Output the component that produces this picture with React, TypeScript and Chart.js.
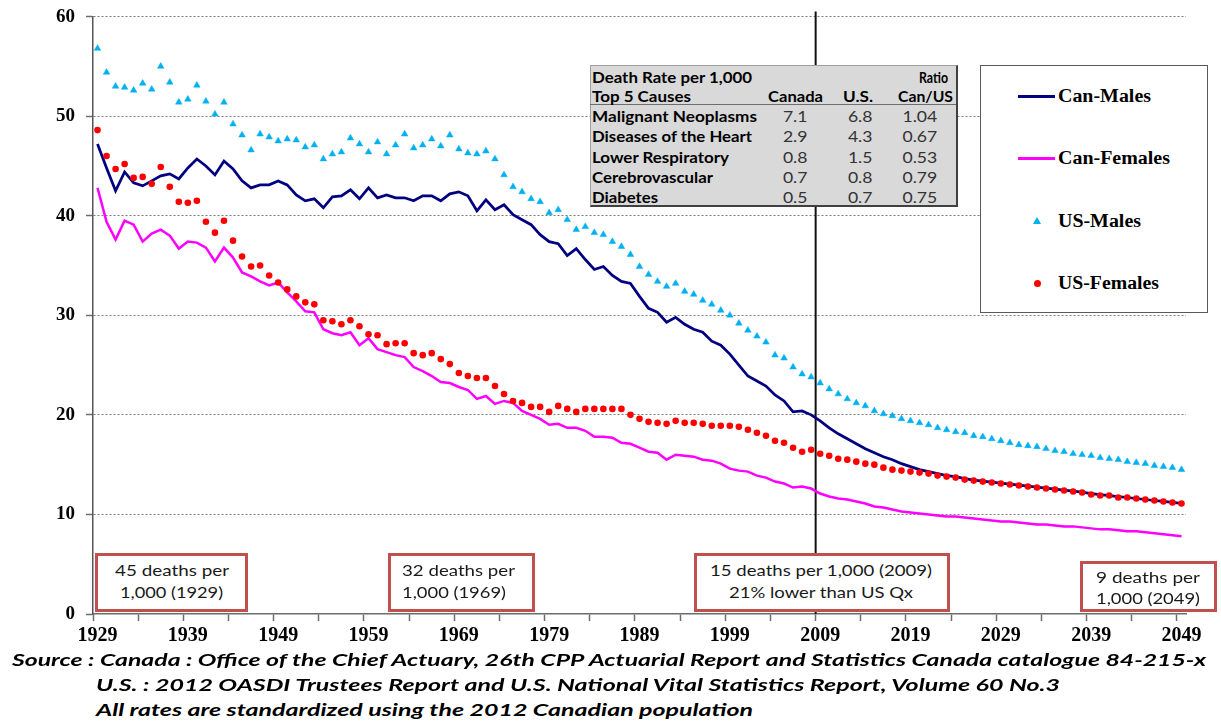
import React, { useEffect, useLayoutEffect, useRef } from 'react';
import { Chart, registerables } from 'chart.js';

Chart.register(...registerables);

// ---------- DATA ----------
const START_YEAR = 1929;
const REF_YEAR = 2009;

// Death rate per 1,000, 1929 .. 2049
const canMales = [
  47.2, 44.8, 42.5, 44.4, 43.3, 43.0, 43.5, 44.0, 44.2, 43.7,
  44.8, 45.7, 45.0, 44.1, 45.5, 44.7, 43.5, 42.8, 43.1, 43.1,
  43.5, 43.1, 42.1, 41.5, 41.7, 40.8, 41.9, 42.0, 42.6, 41.7,
  42.8, 41.8, 42.1, 41.8, 41.8, 41.5, 42.0, 42.0, 41.5, 42.2,
  42.4, 42.0, 40.5, 41.6, 40.6, 41.1, 40.1, 39.6, 39.1, 38.1,
  37.4, 37.2, 36.0, 36.7, 35.6, 34.6, 34.9, 34.0, 33.4, 33.2,
  31.9, 30.7, 30.3, 29.3, 29.8, 29.1, 28.6, 28.3, 27.4, 27.0,
  26.1, 25.0, 23.9, 23.4, 22.9, 22.0, 21.4, 20.3, 20.4, 20.0,
  19.4, 18.7, 18.1, 17.6, 17.1, 16.6, 16.2, 15.8, 15.5, 15.1,
  14.8, 14.5, 14.3, 14.1, 13.9, 13.8, 13.6, 13.45, 13.35, 13.25,
  13.15, 13.05, 12.95, 12.85, 12.75, 12.65, 12.55, 12.45, 12.35, 12.25,
  12.1, 12.0, 11.9, 11.8, 11.7, 11.6, 11.5, 11.4, 11.3, 11.2,
  11.1,
];

const canFemales = [
  42.8, 39.4, 37.6, 39.5, 39.1, 37.4, 38.2, 38.6, 38.0, 36.7,
  37.4, 37.3, 36.8, 35.4, 36.8, 35.8, 34.3, 33.9, 33.4, 33.0,
  33.3, 32.3, 31.4, 30.4, 30.3, 28.6, 28.2, 28.0, 28.3, 27.0,
  27.7, 26.6, 26.3, 26.0, 25.8, 24.8, 24.4, 23.9, 23.3, 23.2,
  22.8, 22.5, 21.6, 21.9, 21.1, 21.4, 21.2, 20.4, 20.0, 19.6,
  19.0, 19.1, 18.7, 18.7, 18.4, 17.8, 17.8, 17.7, 17.2, 17.1,
  16.7, 16.3, 16.2, 15.5, 16.0, 15.9, 15.8, 15.5, 15.4, 15.1,
  14.6, 14.4, 14.3, 13.9, 13.7, 13.3, 13.1, 12.7, 12.8, 12.6,
  12.1, 11.8, 11.6, 11.5, 11.3, 11.1, 10.8, 10.7, 10.5, 10.3,
  10.2, 10.1, 10.0, 9.9, 9.8, 9.8, 9.7, 9.6, 9.5, 9.4,
  9.3, 9.3, 9.2, 9.1, 9.0, 9.0, 8.9, 8.8, 8.8, 8.7,
  8.6, 8.5, 8.5, 8.4, 8.3, 8.3, 8.2, 8.1, 8.0, 7.9,
  7.8,
];

const usMales = [
  56.8, 54.4, 53.0, 52.9, 52.6, 53.3, 52.7, 55.0, 53.4, 51.4,
  51.7, 53.1, 51.5, 50.2, 51.4, 49.2, 48.1, 46.6, 48.2, 47.9,
  47.5, 47.7, 47.6, 46.9, 47.1, 45.7, 46.2, 46.4, 47.8, 47.2,
  46.4, 47.4, 46.2, 47.1, 48.2, 46.8, 47.1, 47.7, 47.0, 48.1,
  46.7, 46.3, 46.2, 46.5, 45.7, 44.1, 42.9, 42.4, 41.7, 41.4,
  40.3, 40.6, 39.6, 38.6, 38.9, 38.3, 38.1, 37.4, 36.9, 36.1,
  34.9, 34.1, 33.4, 32.9, 33.2, 32.4, 32.1, 31.5, 31.1, 30.5,
  30.0, 29.2, 28.5, 27.9, 27.3, 26.0, 25.7, 24.8, 24.1, 23.8,
  23.2, 22.6, 22.1, 21.6, 21.2, 20.9, 20.4, 20.1, 19.9, 19.6,
  19.4, 19.2, 19.0, 18.7, 18.5, 18.3, 18.2, 17.9, 17.8, 17.6,
  17.4, 17.2, 17.0, 16.9, 16.8, 16.6, 16.4, 16.3, 16.1, 16.0,
  15.9, 15.7, 15.6, 15.5, 15.3, 15.2, 15.1, 14.9, 14.8, 14.7,
  14.5,
];

const usFemales = [
  48.6, 46.0, 44.7, 45.2, 43.8, 43.9, 43.2, 44.9, 42.9, 41.4,
  41.3, 41.5, 39.4, 38.3, 39.5, 37.5, 35.9, 34.9, 35.0, 34.0,
  33.3, 32.6, 31.9, 31.3, 31.1, 29.5, 29.4, 29.1, 29.5, 28.9,
  28.1, 28.0, 27.1, 27.2, 27.2, 26.2, 26.0, 26.2, 25.6, 25.1,
  24.2, 23.9, 23.7, 23.7, 22.9, 22.1, 21.4, 21.2, 20.8, 20.8,
  20.3, 20.9, 20.6, 20.3, 20.6, 20.6, 20.6, 20.6, 20.6, 20.0,
  19.6, 19.3, 19.2, 19.1, 19.4, 19.2, 19.2, 19.1, 18.9, 18.9,
  18.9, 18.8, 18.5, 18.2, 17.9, 17.4, 17.2, 16.7, 16.3, 16.5,
  16.1, 15.9, 15.6, 15.5, 15.3, 15.1, 15.0, 14.7, 14.5, 14.4,
  14.3, 14.2, 14.1, 13.9, 13.8, 13.7, 13.5, 13.4, 13.3, 13.2,
  13.1, 13.0, 12.9, 12.8, 12.7, 12.6, 12.5, 12.4, 12.3, 12.2,
  12.0, 11.9, 11.9, 11.7, 11.7, 11.6, 11.5, 11.4, 11.3, 11.2,
  11.1,
];

const years = canMales.map((_, i) => String(START_YEAR + i));
const LABEL_EVERY = 10;
const TICK_EVERY = 5;

const seriesNames = ['Can-Males', 'Can-Females', 'US-Males', 'US-Females'];

// table
const tableTitle1 = 'Death Rate per 1,000';
const tableTitle2 = 'Top 5 Causes';
const causes = ['Malignant Neoplasms', 'Diseases of the Heart', 'Lower Respiratory', 'Cerebrovascular', 'Diabetes'];
const canadaRates = ['7.1', '2.9', '0.8', '0.7', '0.5'];
const usRates = ['6.8', '4.3', '1.5', '0.8', '0.7'];
const ratios = ['1.04', '0.67', '0.53', '0.79', '0.75'];

const sourceLines = [
  'Source : Canada : Office of the Chief Actuary, 26th CPP Actuarial Report and Statistics Canada catalogue 84-215-x',
  'U.S. : 2012 OASDI Trustees Report and U.S. National Vital Statistics Report, Volume 60 No.3',
  'All rates are standardized using the 2012 Canadian population',
];

// ---------- STYLE ----------
const NAVY = '#000080';
const MAGENTA = '#ff00ff';
const SKY = '#00b0f0';
const RED = '#ff0000';
const BOX_RED = '#c0504d';
const SERIF = "'Liberation Serif', 'Times New Roman', serif";
const SANS = "Lato, 'Open Sans', sans-serif";

type TxtProps = {
  x: number; cy: number; w?: number; sx?: number; center?: boolean;
  size: number; family: string; weight?: number | string; italic?: boolean; color?: string;
  children: React.ReactNode;
};

function Txt({ x, cy, w, sx, center, size, family, weight = 400, italic, color = '#000', children }: TxtProps) {
  const lh = Math.round(size * 1.25);
  return (
    <span
      data-fit="1"
      data-w={w ?? ''}
      data-sx={sx ?? ''}
      data-cx={center ? x : ''}
      style={{
        position: 'absolute', left: x, top: cy - lh / 2, height: lh, lineHeight: lh + 'px',
        fontSize: size, fontFamily: family, fontWeight: weight as any, fontStyle: italic ? 'italic' : 'normal',
        color, whiteSpace: 'nowrap', transformOrigin: center ? 'center center' : 'left center',
      }}
    >
      {children}
    </span>
  );
}

const refLinePlugin = {
  id: 'refLine',
  beforeDatasetsDraw(chart: any) {
    const { ctx, chartArea, scales } = chart;
    const x = scales.x;
    const i = years.indexOf(String(REF_YEAR));
    const px = (x.getPixelForValue(i) + x.getPixelForValue(i - 1)) / 2;
    ctx.save();
    ctx.strokeStyle = '#111';
    ctx.lineWidth = 2;
    ctx.beginPath();
    ctx.moveTo(px, chartArea.top - 5);
    ctx.lineTo(px, chartArea.bottom);
    ctx.stroke();
    ctx.restore();
  },
};

export default function App() {
  const canvasRef = useRef<HTMLCanvasElement>(null);
  const rootRef = useRef<HTMLDivElement>(null);

  useEffect(() => {
    const chart = new Chart(canvasRef.current as HTMLCanvasElement, {
      type: 'line',
      data: {
        labels: years,
        datasets: [
          { label: seriesNames[0], data: canMales, borderColor: NAVY, backgroundColor: NAVY, borderWidth: 2.75, pointRadius: 0, tension: 0, order: 4 },
          { label: seriesNames[1], data: canFemales, borderColor: MAGENTA, backgroundColor: MAGENTA, borderWidth: 2.5, pointRadius: 0, tension: 0, order: 3 },
          { label: seriesNames[2], data: usMales, showLine: false, pointStyle: 'triangle', pointRadius: 3.8, pointBorderWidth: 0.5, borderColor: SKY, backgroundColor: SKY, order: 2 },
          { label: seriesNames[3], data: usFemales, showLine: false, pointStyle: 'circle', pointRadius: 3.3, pointBorderWidth: 0, borderColor: RED, backgroundColor: RED, order: 1 },
        ],
      } as any,
      options: {
        animation: false,
        responsive: false,
        maintainAspectRatio: false,
        events: [],
        layout: { padding: { left: 0, right: 35, top: 16.6, bottom: 0 } },
        plugins: { legend: { display: false }, tooltip: { enabled: false } },
        scales: {
          x: {
            type: 'category',
            offset: true,
            afterFit: (s: any) => { s.height = 36; s.paddingLeft = 0; s.paddingRight = 0; },
            grid: {
              offset: true,
              drawOnChartArea: false,
              drawTicks: true,
              tickLength: 7,
              tickWidth: 1.5,
              tickColor: (ctx: any) => (ctx.index % TICK_EVERY === 0 && ctx.index < years.length ? '#6d6d6d' : 'rgba(0,0,0,0)'),
            },
            border: { display: true, color: '#6d6d6d', width: 1.5 },
            ticks: {
              autoSkip: false, maxRotation: 0, minRotation: 0, padding: 3, color: '#000',
              font: { family: SERIF, size: 20, weight: 'bold' },
              callback: (_v: any, index: number) => (index % LABEL_EVERY === 0 ? years[index] : ''),
            },
          },
          y: {
            min: 0, max: 60,
            afterFit: (s: any) => { s.width = 93; s.paddingTop = 0; s.paddingBottom = 0; },
            grid: {
              color: (ctx: any) => (ctx.tick && ctx.tick.value === 0 ? 'rgba(0,0,0,0)' : '#7a7a7a'),
              lineWidth: 1,
              drawTicks: true,
              tickLength: 7,
              tickWidth: 1.5,
              tickColor: '#6d6d6d',
            },
            border: { display: true, color: '#555', width: 1.5, dash: [2, 2] },
            ticks: {
              stepSize: 10, padding: 11, color: '#000',
              font: { family: SERIF, size: 19, weight: 'bold' },
            },
          },
        },
      } as any,
      plugins: [refLinePlugin],
    });
    return () => chart.destroy();
  }, []);

  useLayoutEffect(() => {
    const root = rootRef.current;
    if (!root) return;
    root.querySelectorAll<HTMLElement>('[data-fit]').forEach((el) => {
      el.style.transform = '';
      const nat = el.getBoundingClientRect().width;
      const w = parseFloat(el.dataset.w || '');
      const sxv = parseFloat(el.dataset.sx || '');
      const s = !isNaN(w) && nat > 0 ? w / nat : !isNaN(sxv) ? sxv : 1;
      const cx = parseFloat(el.dataset.cx || '');
      if (!isNaN(cx)) el.style.left = cx - nat / 2 + 'px';
      el.style.transform = `scaleX(${s})`;
    });
  }, []);

  const tbl = { size: 16, family: SANS };
  const rowY = [116, 136, 157, 177, 197];
  const causeW = [165, 160, 137, 121, 66];
  const legendY = [96, 158, 221, 283];
  const legendW = [93, 112, 83, 101];
  const ann = { size: 15, family: SANS, color: '#1a1a1a' };

  const boxStyle = (left: number, top: number, width: number, height: number): React.CSSProperties => ({
    position: 'absolute', left, top, width, height, boxSizing: 'border-box',
    border: `3px solid ${BOX_RED}`, background: '#fff',
  });

  return (
    <div ref={rootRef} style={{ position: 'fixed', left: 0, top: 0, width: 1221, height: 723, background: '#fff', overflow: 'hidden' }}>
      <canvas ref={canvasRef} width={1221} height={650} style={{ position: 'absolute', left: 0, top: 0, width: 1221, height: 650 }} />

      {/* table */}
      <div style={{ position: 'absolute', left: 590, top: 65, width: 368, height: 142, boxSizing: 'border-box', background: '#d9d9d9', borderTop: '1px solid #a0a0a0', borderLeft: '1px solid #a0a0a0', borderRight: '2px solid #404040', borderBottom: '2px solid #404040' }} />
      <div style={{ position: 'absolute', left: 590, top: 104, width: 366, height: 1, background: '#6d6d6d' }} />
      <Txt x={592} cy={76.7} w={160} {...tbl} weight={700}>{tableTitle1}</Txt>
      <Txt x={919} cy={76.7} w={29} {...tbl} weight={700}>Ratio</Txt>
      <Txt x={592} cy={96} w={99} {...tbl} weight={700}>{tableTitle2}</Txt>
      <Txt x={768} cy={96} w={55} {...tbl} weight={700}>Canada</Txt>
      <Txt x={843} cy={96} w={30} {...tbl} weight={700}>U.S.</Txt>
      <Txt x={898} cy={96} w={55} {...tbl} weight={700}>Can/US</Txt>
      {causes.map((c, i) => (
        <React.Fragment key={c}>
          <Txt x={592} cy={rowY[i]} w={causeW[i]} {...tbl} weight={700}>{c}</Txt>
          <Txt x={795} cy={rowY[i]} center sx={1.1} {...tbl} color="#333">{canadaRates[i]}</Txt>
          <Txt x={860} cy={rowY[i]} center sx={1.1} {...tbl} color="#333">{usRates[i]}</Txt>
          <Txt x={920} cy={rowY[i]} center sx={1.1} {...tbl} color="#333">{ratios[i]}</Txt>
        </React.Fragment>
      ))}

      {/* legend */}
      <div style={{ position: 'absolute', left: 980, top: 65, width: 228, height: 248, boxSizing: 'border-box', background: '#fff', border: '1.5px solid #595959' }} />
      <div style={{ position: 'absolute', left: 1018, top: legendY[0] - 1.5, width: 37, height: 3, background: NAVY }} />
      <div style={{ position: 'absolute', left: 1018, top: legendY[1] - 1.5, width: 37, height: 3, background: MAGENTA }} />
      <div style={{ position: 'absolute', left: 1033, top: legendY[2] - 4, width: 0, height: 0, borderLeft: '4px solid transparent', borderRight: '4px solid transparent', borderBottom: `7px solid ${SKY}` }} />
      <div style={{ position: 'absolute', left: 1033.5, top: legendY[3] - 3.5, width: 7, height: 7, borderRadius: '50%', background: RED }} />
      {seriesNames.map((n, i) => (
        <Txt key={n} x={1058} cy={legendY[i]} w={legendW[i]} size={18.5} family={SERIF} weight={700}>{n}</Txt>
      ))}

      {/* annotation boxes */}
      <div style={boxStyle(95, 553, 153, 59)} />
      <Txt x={115} cy={570} w={114} {...ann}>45 deaths per</Txt>
      <Txt x={120} cy={592} w={103} {...ann}>1,000 (1929)</Txt>

      <div style={boxStyle(388, 553, 147, 59)} />
      <Txt x={402} cy={570} w={113} {...ann}>32 deaths per</Txt>
      <Txt x={402} cy={592} w={104} {...ann}>1,000 (1969)</Txt>

      <div style={boxStyle(694, 553, 256, 59)} />
      <Txt x={710} cy={570} w={222} {...ann}>15 deaths per 1,000 (2009)</Txt>
      <Txt x={729} cy={592} w={184} {...ann}>21% lower than US Qx</Txt>

      <div style={boxStyle(1080, 561, 137, 51)} />
      <Txt x={1096} cy={577} w={104} {...ann}>9 deaths per</Txt>
      <Txt x={1096} cy={598} w={104} {...ann}>1,000 (2049)</Txt>

      {/* source */}
      <Txt x={12} cy={659} w={1194} size={17} family={SANS} weight={700} italic>{sourceLines[0]}</Txt>
      <Txt x={96} cy={684} w={964} size={17} family={SANS} weight={700} italic>{sourceLines[1]}</Txt>
      <Txt x={96} cy={709} w={657} size={17} family={SANS} weight={700} italic>{sourceLines[2]}</Txt>
    </div>
  );
}
